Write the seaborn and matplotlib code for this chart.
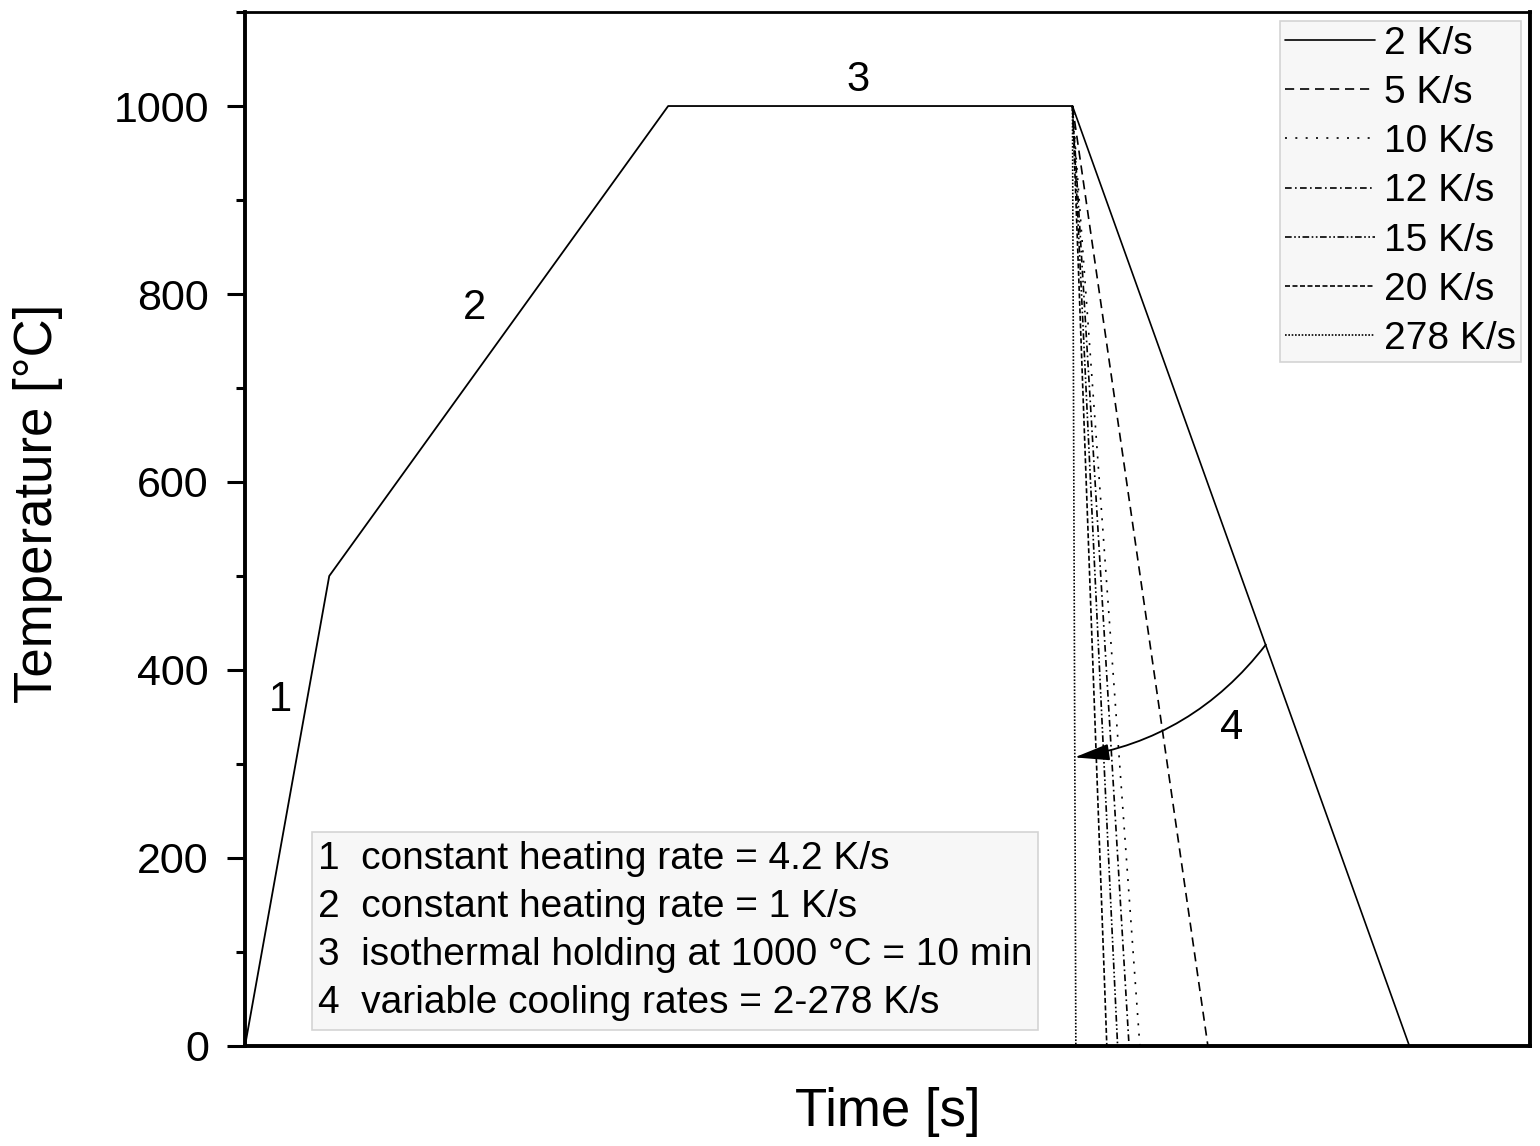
import matplotlib
matplotlib.use("Agg")
import matplotlib.pyplot as plt
import seaborn as sns
from matplotlib.patches import Rectangle
from matplotlib.ticker import MultipleLocator

# heating + holding path (time in s, temperature in degC)
heat_time = [0, 125, 628, 1228]
heat_temp = [0, 500, 1000, 1000]

# cooling from 1000 degC: rate label and time at which 0 degC is reached
cool_labels = ["2 K/s", "5 K/s", "10 K/s", "12 K/s", "15 K/s", "20 K/s", "278 K/s"]
cool_end = [1728, 1429, 1328, 1312, 1295, 1279, 1233]
cool_styles = [
    "-",
    (0, (5.5, 3.5)),
    (0, (1.2, 5.0)),
    (0, (4, 2, 1, 2)),
    (0, (4, 1.5, 1, 1.5, 1, 1.5)),
    (0, (3, 1.5)),
    (0, (1, 1)),
]

box_lines = [
    "1  constant heating rate = 4.2 K/s",
    "2  constant heating rate = 1 K/s",
    "3  isothermal holding at 1000 °C = 10 min",
    "4  variable cooling rates = 2-278 K/s",
]

sns.set_style("ticks")
plt.rcParams["font.family"] = ["Liberation Sans", "DejaVu Sans"]
plt.rcParams["text.color"] = "black"
plt.rcParams["axes.labelcolor"] = "black"
plt.rcParams["ytick.color"] = "black"

fig = plt.figure(figsize=(15.4, 11.46), dpi=100)
ax = fig.add_axes([0.1591, 0.0873, 0.8344, 0.9022])

sns.lineplot(x=heat_time, y=heat_temp, ax=ax, color="black", linewidth=1.3,
             sort=False, estimator=None)

for lab, t_end, ls in zip(cool_labels, cool_end, cool_styles):
    sns.lineplot(x=[heat_time[-1], t_end], y=[heat_temp[-1], 0], ax=ax,
                 color="black", linewidth=1.2, linestyle=ls, label=lab,
                 sort=False, estimator=None)

ax.set_xlim(0, 1907)
ax.set_ylim(0, 1100)
ax.set_xticks([])
ax.yaxis.set_major_locator(MultipleLocator(200))
ax.yaxis.set_minor_locator(MultipleLocator(100))
ax.tick_params(axis="y", which="major", length=13, width=2.2, labelsize=31, pad=13,
               direction="out")
ax.tick_params(axis="y", which="minor", length=6.5, width=2.2, direction="out")

for side in ["left", "bottom", "right"]:
    ax.spines[side].set_linewidth(2.8)
ax.spines["top"].set_linewidth(2.0)
for sp in ax.spines.values():
    sp.set_visible(True)
    sp.set_color("black")

ax.set_xlabel("Time [s]", fontsize=38)
ax.set_ylabel("Temperature [°C]", fontsize=38)
ax.xaxis.set_label_coords(0.5, -0.04)
ax.yaxis.set_label_coords(-0.142, 0.525)

ax.text(52, 368, "1", fontsize=30, ha="center", va="center")
ax.text(341, 785, "2", fontsize=30, ha="center", va="center")
ax.text(909, 1028, "3", fontsize=30, ha="center", va="center")
ax.text(1464, 338, "4", fontsize=30, ha="center", va="center")

ax.annotate("", xy=(1231, 307), xytext=(1515, 427),
            arrowprops=dict(arrowstyle="-|>,head_length=0.72,head_width=0.17",
                            color="black", lw=1.3,
                            mutation_scale=30, shrinkA=0, shrinkB=0,
                            connectionstyle="arc3,rad=-0.2"))

# description box
ax.add_patch(Rectangle((0.0521, 0.0155), 0.565, 0.1915, transform=ax.transAxes,
                       facecolor="#f7f7f7", edgecolor="#d4d4d4", linewidth=1.2,
                       zorder=3))
ax.text(0.0568, 0.1112, "\n".join(box_lines), transform=ax.transAxes,
        fontsize=28, ha="left", va="center", linespacing=1.42, zorder=4)

leg = ax.legend(loc="upper right", fontsize=28, frameon=True, fancybox=False,
                framealpha=1, facecolor="#f7f7f7", edgecolor="#d4d4d4",
                handlelength=2.3, handletextpad=0.25, labelspacing=0.34,
                borderpad=0.13, borderaxespad=0.22)
leg.get_frame().set_linewidth(1.2)

fig.savefig("out.png", dpi=100)
